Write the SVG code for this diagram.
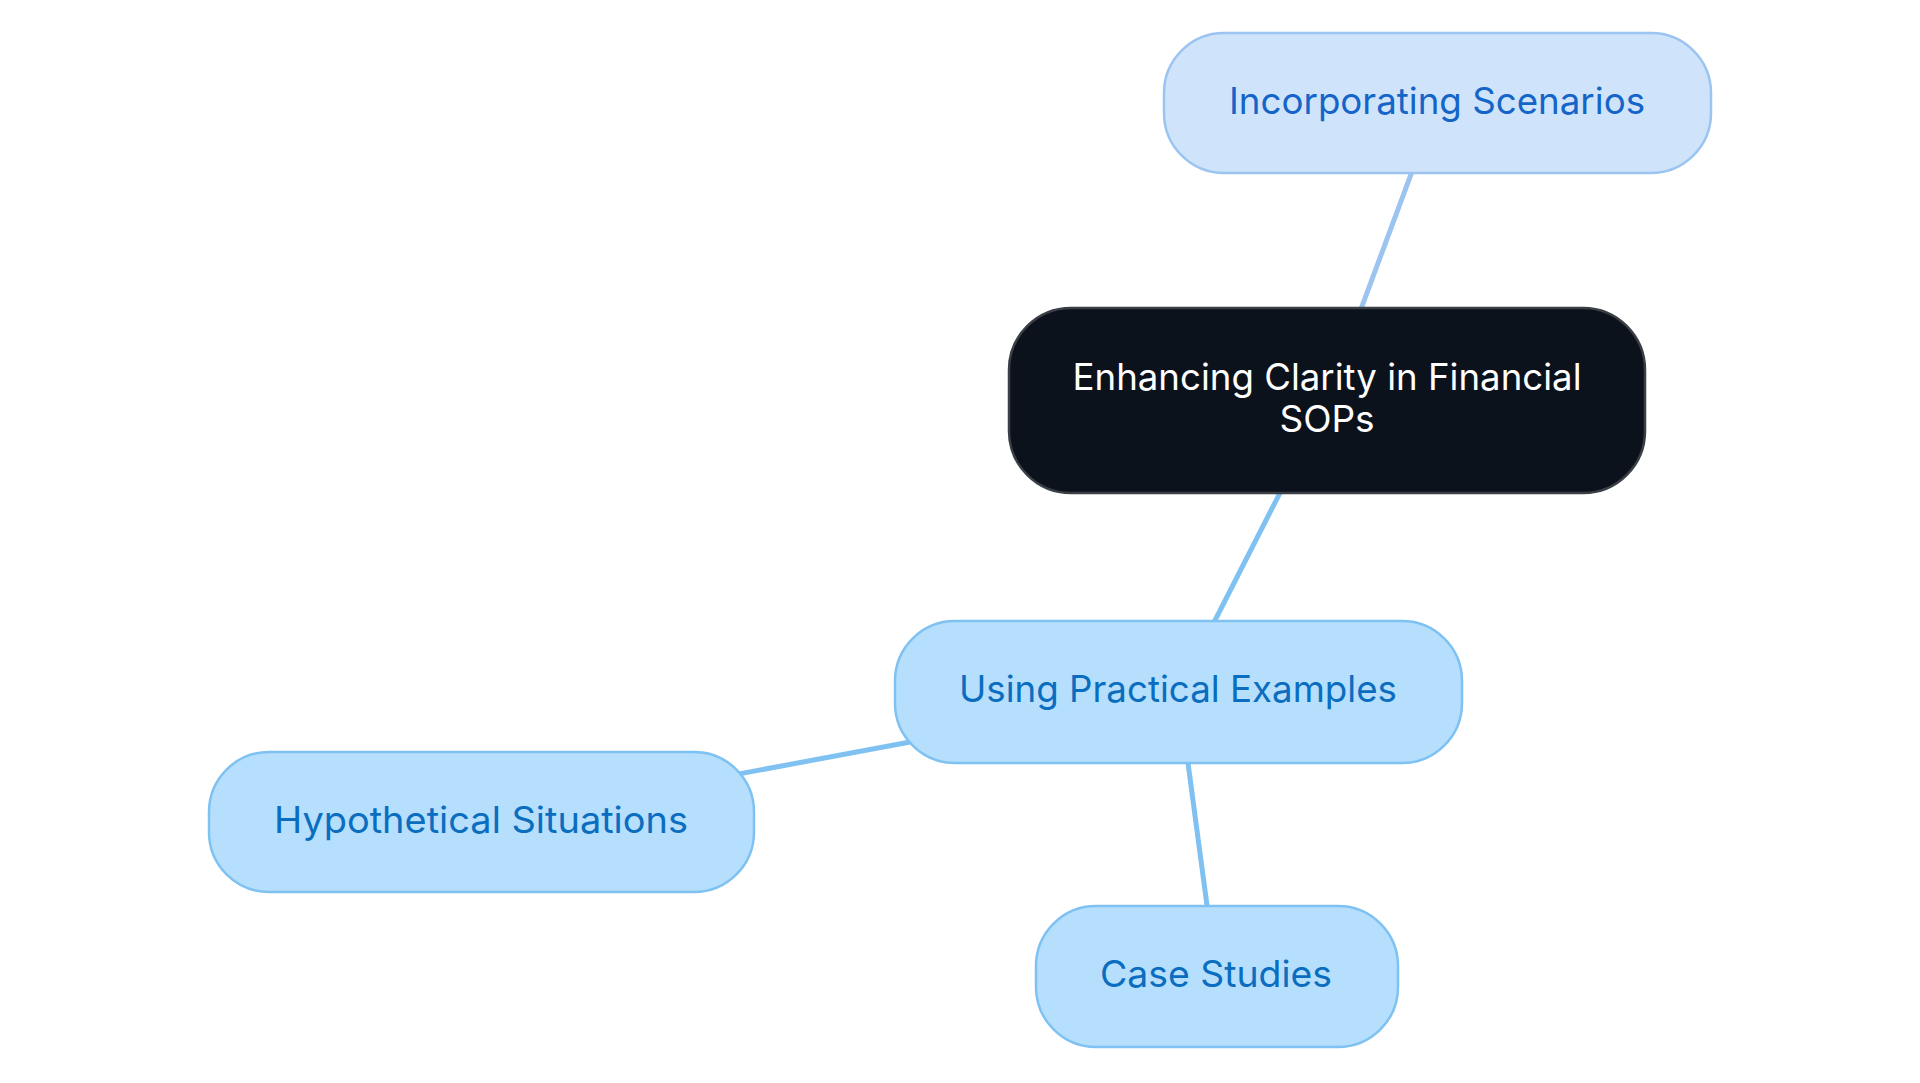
<svg xmlns="http://www.w3.org/2000/svg" width="1920" height="1083" viewBox="0 0 1920 1083">
<style>
.lbl{font-family:Inter,"Noto Sans","Liberation Sans",sans-serif;font-size:37px;text-anchor:middle;dominant-baseline:central}
.c1{stroke:#9cc4f0;stroke-width:5;fill:none}
.c2{stroke:#7fc2f2;stroke-width:5;fill:none}
.leaf rect{fill:#b5dffd;stroke:#7fc2f2;stroke-width:2.5}
.leaf text{fill:#0a6dbf}
</style>
<rect width="1920" height="1083" fill="#ffffff"/>
<g id="connectors">
<line class="c1" x1="1437.5" y1="103" x2="1327" y2="400.5"/>
<line class="c2" x1="1327" y1="400.5" x2="1178.5" y2="692"/>
<line class="c2" x1="1178.5" y1="692" x2="481" y2="822"/>
<line class="c2" x1="1178.5" y1="692" x2="1216.5" y2="976.5"/>
</g>
<g id="node-incorporating">
<rect x="1164" y="33" width="547" height="140" rx="60" fill="#cfe4fb" stroke="#9cc4f0" stroke-width="2.5"/>
<text class="lbl" x="1437" y="100" fill="#1565c8" textLength="416" lengthAdjust="spacingAndGlyphs">Incorporating Scenarios</text>
</g>
<g id="node-root">
<rect x="1009" y="308" width="636" height="185" rx="62" fill="#0c121c" stroke="#3a3e45" stroke-width="2.5"/>
<text class="lbl" x="1327" y="376" fill="#ffffff" textLength="509" lengthAdjust="spacingAndGlyphs">Enhancing Clarity in Financial</text>
<text class="lbl" x="1327" y="418" fill="#ffffff">SOPs</text>
</g>
<g id="node-using" class="leaf">
<rect x="895" y="621" width="567" height="142" rx="60"/>
<text class="lbl" x="1178" y="688" textLength="438" lengthAdjust="spacingAndGlyphs">Using Practical Examples</text>
</g>
<g id="node-hypothetical" class="leaf">
<rect x="209" y="752" width="545" height="140" rx="60"/>
<text class="lbl" x="481" y="819" textLength="414" lengthAdjust="spacingAndGlyphs">Hypothetical Situations</text>
</g>
<g id="node-case" class="leaf">
<rect x="1036" y="906" width="362" height="141" rx="60"/>
<text class="lbl" x="1216" y="973" textLength="232" lengthAdjust="spacingAndGlyphs">Case Studies</text>
</g>
</svg>
